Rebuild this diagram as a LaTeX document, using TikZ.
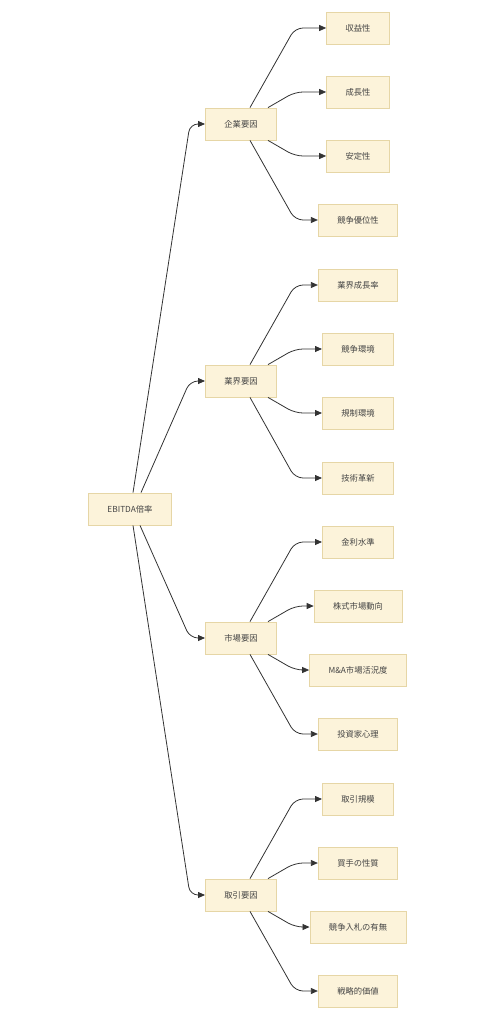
\documentclass[tikz,border=0pt]{standalone}
\usepackage{fontspec}
\setmainfont{Noto Sans CJK JP}
\usepackage{xcolor}
\usetikzlibrary{arrows.meta}

\definecolor{boxfill}{HTML}{FCF3DA}
\definecolor{boxline}{HTML}{E6D6A6}
\definecolor{textgray}{HTML}{444444}
\definecolor{linegray}{HTML}{333333}

\begin{document}
\begin{tikzpicture}[
        x=1pt, y=-1pt,
        >={Triangle[length=7pt,width=6pt]},
        every node/.style={font=\fontsize{8.3}{10}\selectfont, text=textgray},
        factor/.style={draw=boxline, fill=boxfill, rectangle, minimum height=32pt, inner xsep=19pt, inner ysep=0pt, line width=0.8pt},
        link/.style={->, draw=linegray, line width=0.8pt, rounded corners=8pt}
    ]
        \useasboundingbox (0,0) rectangle (490,1024);

        % Nodes
        \node (root) [factor] at (130,509) {EBITDA倍率};

        \node (kigyo) [factor] at (241,124) {企業要因};
        \node (gyokai) [factor] at (241,381) {業界要因};
        \node (shijo) [factor] at (241,638) {市場要因};
        \node (torihiki) [factor] at (241,895) {取引要因};

        \node (shueki) [factor] at (358,28) {収益性};
        \node (seicho) [factor] at (358,92) {成長性};
        \node (antei) [factor] at (358,156) {安定性};
        \node (yuui) [factor] at (358,220) {競争優位性};

        \node (gseicho) [factor] at (358,285) {業界成長率};
        \node (kankyo) [factor] at (358,349) {競争環境};
        \node (kisei) [factor] at (358,413) {規制環境};
        \node (gijutsu) [factor] at (358,478) {技術革新};

        \node (kinri) [factor] at (358,542) {金利水準};
        \node (kabu) [factor] at (358,606) {株式市場動向};
        \node (manda) [factor] at (358,670) {M\&A市場活況度};
        \node (shinri) [factor] at (358,734) {投資家心理};

        \node (kibo) [factor] at (358,799) {取引規模};
        \node (kaite) [factor] at (358,863) {買手の性質};
        \node (nyusatsu) [factor] at (358,927) {競争入札の有無};
        \node (senryaku) [factor] at (358,991) {戦略的価値};

        % Arrows from root
        \draw [link] ([xshift=3]root.north) -- (190,124) -- (kigyo.west);
        \draw [link] ([xshift=11]root.north) -- (190,381) -- (gyokai.west);
        \draw [link] ([xshift=10]root.south) -- (190,638) -- (shijo.west);
        \draw [link] ([xshift=3]root.south) -- (190,895) -- (torihiki.west);

        % Arrows to leaves
        \draw [link] ([xshift=9]kigyo.north) -- (295,28) -- (shueki.west);
        \draw [link] ([xshift=27]kigyo.north) -- (295,92) -- (seicho.west);
        \draw [link] ([xshift=27]kigyo.south) -- (295,156) -- (antei.west);
        \draw [link] ([xshift=9]kigyo.south) -- (295,220) -- (yuui.west);

        \draw [link] ([xshift=9]gyokai.north) -- (295,285) -- (gseicho.west);
        \draw [link] ([xshift=27]gyokai.north) -- (295,349) -- (kankyo.west);
        \draw [link] ([xshift=27]gyokai.south) -- (295,413) -- (kisei.west);
        \draw [link] ([xshift=9]gyokai.south) -- (295,478) -- (gijutsu.west);

        \draw [link] ([xshift=9]shijo.north) -- (295,542) -- (kinri.west);
        \draw [link] ([xshift=27]shijo.north) -- (295,606) -- (kabu.west);
        \draw [link] ([xshift=27]shijo.south) -- (295,670) -- (manda.west);
        \draw [link] ([xshift=9]shijo.south) -- (295,734) -- (shinri.west);

        \draw [link] ([xshift=9]torihiki.north) -- (295,799) -- (kibo.west);
        \draw [link] ([xshift=27]torihiki.north) -- (295,863) -- (kaite.west);
        \draw [link] ([xshift=27]torihiki.south) -- (295,927) -- (nyusatsu.west);
        \draw [link] ([xshift=9]torihiki.south) -- (295,991) -- (senryaku.west);
    \end{tikzpicture}
\end{document}
